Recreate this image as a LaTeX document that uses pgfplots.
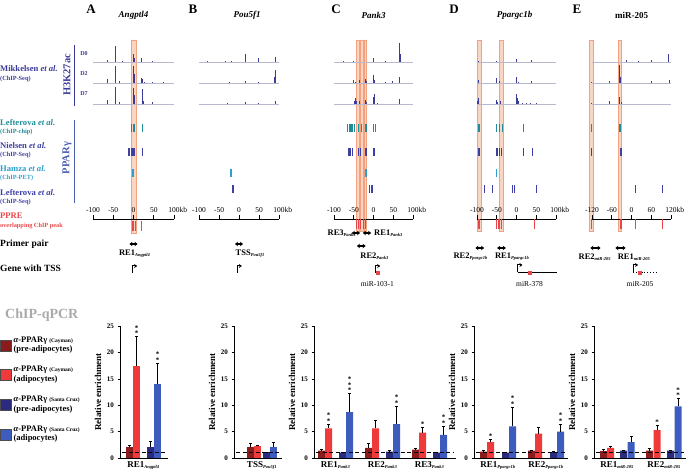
\documentclass[border=0pt]{standalone}
\usepackage{fontspec}
\setmainfont{Liberation Serif}
\usepackage{pgfplots}
\pgfplotsset{compat=1.18}
\usetikzlibrary{arrows.meta}

\definecolor{trk}{HTML}{3B3B98}
\definecolor{trkbase}{HTML}{B8B8CE}
\definecolor{tealc}{HTML}{1E8C99}
\definecolor{nblue}{HTML}{3E40A0}
\definecolor{hblue}{HTML}{2B9FD0}
\definecolor{lblue}{HTML}{3E40A8}
\definecolor{pparc}{HTML}{4A5DB0}
\definecolor{pprec}{HTML}{E8474A}
\definecolor{bandf}{HTML}{FBD5C3}
\definecolor{bande}{HTML}{F2A27E}
\definecolor{cdr}{HTML}{8B1C1C}
\definecolor{cr}{HTML}{EE3A3A}
\definecolor{cdb}{HTML}{2B2B7D}
\definecolor{cb}{HTML}{3D5CBE}
\definecolor{qgray}{HTML}{AAAAAA}

\newcommand{\sub}[1]{\textsubscript{\fontsize{4.5}{5}\selectfont\itshape #1}}

\pgfplotsset{
  trackax/.style={scale only axis, anchor=south west, clip=false, height=179pt, axis on top,
    ymin=-219, ymax=-40, axis x line*=bottom, axis y line=none,
    x axis line style={line width=0.8pt}, xtick align=inside, major tick length=3.5pt,
    xtick style={line width=0.8pt, black},
    xticklabel style={anchor=south, yshift=3pt, font=\fontsize{7.5}{8}\selectfont}},
  base/.style={line width=0.5pt, color=trkbase},
  pk/.style={draw=none, mark=none, error bars/.cd, y dir=plus, y explicit,
    error mark=none, error bar style={line width=0.8pt, color=trk}},
  pp/.style={only marks, mark=|, mark size=3.8pt, mark options={line width=1.1pt, color=#1}},
  ppre/.style={only marks, mark=|, mark size=5pt, mark options={line width=0.9pt, color=pprec}},
  band/.style={fill=bandf, draw=bande, line width=0.6pt},
  primer/.style={line width=1.6pt, {Stealth[length=3pt,width=4.5pt]}-{Stealth[length=3pt,width=4.5pt]}},
  tss/.style={line width=1pt, -{Stealth[length=3pt,width=4pt]}},
  barax/.style={scale only axis, anchor=south west, height=132pt, ymin=0, ymax=25,
    ytick={0,5,10,15,20,25}, axis lines*=left, axis line style={line width=0.6pt},
    ytick align=outside, major tick length=2.5pt, tick style={black, line width=0.5pt},
    major x tick style={draw=none},
    /pgf/number format/assume math mode=true,
    yticklabel style={font=\bfseries\fontsize{7}{8}\selectfont},
    ylabel={Relative enrichment}, ylabel style={font=\bfseries\fontsize{9}{10}\selectfont, yshift=-1pt},
    xticklabel style={font=\bfseries\fontsize{9}{10}\selectfont}},
  bb/.style={ybar, bar width=7, bar shift=0, fill=#1, draw=none, forget plot,
    error bars/.cd, y dir=plus, y explicit, error bar style={line width=0.5pt, black},
    error mark options={rotate=90, mark size=1.5pt, line width=0.5pt, black}},
  one/.style={black, line width=1pt, dash pattern=on 4pt off 2.5pt, forget plot},
}
\tikzset{
  star/.style={anchor=south, align=center, font=\bfseries\fontsize{7}{4}\selectfont, inner sep=0.5pt},
  lab/.style={font=\bfseries\fontsize{8.5}{9}\selectfont, inner sep=0},
  mir/.style={font=\fontsize{7.5}{8}\selectfont, inner sep=0},
  gt/.style={font=\bfseries\itshape\fontsize{9}{10}\selectfont},
  pl/.style={font=\bfseries\fontsize{13}{14}\selectfont},
  ll/.style={anchor=west, inner sep=0},
  big/.style={font=\bfseries\fontsize{8.6}{9.5}\selectfont},
  small/.style={font=\bfseries\fontsize{6.3}{7}\selectfont},
}

\begin{document}
\begin{tikzpicture}
\useasboundingbox (0,0) rectangle (688pt,473pt);

% ---- left labels
\node[ll, big, text=trk] at (0,404pt) {Mikkelsen \textit{et al.}};
\node[ll, small, text=trk] at (0,394pt) {(ChIP-Seq)};
\node[rotate=90, font=\bfseries\fontsize{10.5}{11}\selectfont, text=trk] at (67pt,398pt) {H3K27ac};
\draw[trk, line width=1pt] (74pt,428pt) -- (74pt,367pt);
\node[font=\bfseries\fontsize{6}{7}\selectfont, text=trk] at (84pt,419pt) {D0};
\node[font=\bfseries\fontsize{6}{7}\selectfont, text=trk] at (84pt,399pt) {D2};
\node[font=\bfseries\fontsize{6}{7}\selectfont, text=trk] at (84pt,379pt) {D7};

\node[ll, big, text=tealc] at (0,350pt) {Lefterova \textit{et al.}};
\node[ll, small, text=tealc] at (0,341pt) {(ChIP-chip)};
\node[ll, big, text=nblue] at (0,327pt) {Nielsen \textit{et al.}};
\node[ll, small, text=nblue] at (0,318pt) {(ChIP-Seq)};
\node[ll, big, text=hblue] at (0,304pt) {Hamza \textit{et al.}};
\node[ll, small, text=hblue] at (0,295pt) {(ChIP-PET)};
\node[ll, big, text=lblue] at (0,280pt) {Lefterova \textit{et al.}};
\node[ll, small, text=lblue] at (0,271pt) {(ChIP-Seq)};
\node[rotate=90, font=\bfseries\fontsize{10.5}{11}\selectfont, text=pparc] at (67pt,315pt) {PPARγ};
\draw[pparc, line width=1pt] (74pt,353pt) -- (74pt,270pt);

\node[ll, big, text=pprec] at (0,257pt) {PPRE};
\node[ll, small, text=pprec] at (0,247pt) {overlapping ChIP peak};
\node[ll, font=\bfseries\fontsize{9.5}{10}\selectfont] at (0,229pt) {Primer pair};
\node[ll, font=\bfseries\fontsize{9.5}{10}\selectfont] at (0,205pt) {Gene with TSS};
\node[ll, font=\bfseries\fontsize{14}{15}\selectfont, text=qgray] at (5pt,158pt) {ChIP-qPCR};

% ---- panel letters
\node[pl] at (91pt,464pt) {A};
\node[pl] at (193pt,464pt) {B};
\node[pl] at (336pt,464pt) {C};
\node[pl] at (454pt,464pt) {D};
\node[pl] at (577pt,464pt) {E};

% ================= A tracks
\begin{axis}[trackax, at={(93pt,254pt)}, width=81pt, xmin=-100, xmax=100,
  xtick={-100,-50,0,50,100}, xticklabels={-100,-50,0,50,100\rlap{kb}}]
\addplot[band] coordinates {(-5,-40)(7,-40)(7,-233)(-5,-233)(-5,-40)};
\addplot[base] coordinates {(-100,-62)(100,-62)};
\addplot[base] coordinates {(-100,-83)(100,-83)};
\addplot[base] coordinates {(-100,-104)(100,-104)};
\addplot[pk] coordinates {(-64,-62) +- (0,2) (-45,-62) +- (0,16) (-44,-62) +- (0,9) (-27,-62) +- (0,1)
  (-1,-62) +- (0,5) (0,-62) +- (0,8) (1,-62) +- (0,4) (20,-62) +- (0,4) (47,-62) +- (0,1)};
\addplot[pk] coordinates {(-64,-83) +- (0,4) (-45,-83) +- (0,17) (-44,-83) +- (0,10) (-35,-83) +- (0,2)
  (-1,-83) +- (0,8) (0,-83) +- (0,17) (1,-83) +- (0,9) (3,-83) +- (0,3) (20,-83) +- (0,5) (21,-83) +- (0,4)
  (23,-83) +- (0,2) (27,-83) +- (0,1) (47,-83) +- (0,1) (75,-83) +- (0,1)};
\addplot[pk] coordinates {(-64,-104) +- (0,4) (-45,-104) +- (0,17) (-44,-104) +- (0,10) (-35,-104) +- (0,2)
  (-1,-104) +- (0,8) (0,-104) +- (0,16) (1,-104) +- (0,9) (3,-104) +- (0,3) (21,-104) +- (0,9)
  (22,-104) +- (0,15) (23,-104) +- (0,12) (25,-104) +- (0,3) (47,-104) +- (0,2)};
\addplot[pp=tealc] coordinates {(-4,-128)(-1,-128)(2,-128)(22,-128)};
\addplot[pp=nblue] coordinates {(-12,-152)(-9,-152)(-6,-152)(-3,-152)(0,-152)(3,-152)(22,-152)};
\addplot[pp=hblue] coordinates {(-2,-173)(1,-173)};
\addplot[ppre] coordinates {(-2,-226)(1,-226)(4,-226)(20,-226)};
\addplot[primer] coordinates {(-10,-244)(10,-244)};
\addplot[tss] coordinates {(-3,-273)(-3,-266)(9,-266)};
\node[lab] at (axis cs:3,-254) {RE1\sub{Angptl4}};
\node[gt] at (axis cs:0,-15) {Angptl4};
\end{axis}

% ================= B tracks
\begin{axis}[trackax, at={(199pt,254pt)}, width=80pt, xmin=-100, xmax=100,
  xtick={-100,-50,0,50,100}, xticklabels={-100,-50,0,50,100\rlap{kb}}]
\addplot[base] coordinates {(-100,-62)(100,-62)};
\addplot[base] coordinates {(-100,-83)(100,-83)};
\addplot[base] coordinates {(-100,-104)(100,-104)};
\addplot[pk] coordinates {(-80,-62) +- (0,1) (-35,-62) +- (0,1) (-20,-62) +- (0,1) (15,-62) +- (0,8)
  (48,-62) +- (0,4) (90,-62) +- (0,5)};
\addplot[pk] coordinates {(-25,-83) +- (0,1) (15,-83) +- (0,2) (48,-83) +- (0,1) (89,-83) +- (0,6)
  (90,-83) +- (0,13) (91,-83) +- (0,5)};
\addplot[pk] coordinates {(-30,-104) +- (0,1) (15,-104) +- (0,2) (48,-104) +- (0,1) (90,-104) +- (0,3)};
\addplot[pp=hblue] coordinates {(-20,-173)};
\addplot[pp=lblue] coordinates {(-15,-189)};
\addplot[primer] coordinates {(-10,-244)(10,-244)};
\addplot[tss] coordinates {(-5,-273)(-5,-266)(7,-266)};
\node[lab] at (axis cs:28,-254) {TSS\sub{Pou5f1}};
\node[gt] at (axis cs:20,-15) {Pou5f1};
\end{axis}

% ================= C tracks
\begin{axis}[trackax, at={(334pt,254pt)}, width=79pt, xmin=-100, xmax=100,
  xtick={-100,-50,0,50,100}, xticklabels={-100,-50,0,50,100\rlap{kb}}]
\addplot[band] coordinates {(-44,-40)(-37,-40)(-37,-231)(-44,-231)(-44,-40)};
\addplot[band] coordinates {(-34,-40)(-27,-40)(-27,-231)(-34,-231)(-34,-40)};
\addplot[band] coordinates {(-24,-40)(-17,-40)(-17,-231)(-24,-231)(-24,-40)};
\addplot[base] coordinates {(-100,-62)(100,-62)};
\addplot[base] coordinates {(-100,-83)(100,-83)};
\addplot[base] coordinates {(-100,-104)(100,-104)};
\addplot[pk] coordinates {(-75,-62) +- (0,1) (-50,-62) +- (0,1) (0,-62) +- (0,4) (30,-62) +- (0,1)
  (65,-62) +- (0,10) (66,-62) +- (0,19) (67,-62) +- (0,8)};
\addplot[pk] coordinates {(-50,-83) +- (0,3) (-46,-83) +- (0,1) (-36,-83) +- (0,3) (-21,-83) +- (0,4)
  (-18,-83) +- (0,2) (0,-83) +- (0,8) (2,-83) +- (0,3) (30,-83) +- (0,1) (48,-83) +- (0,2)
  (65,-83) +- (0,4) (66,-83) +- (0,6)};
\addplot[pk] coordinates {(-48,-104) +- (0,3) (-46,-104) +- (0,6) (-44,-104) +- (0,3) (-36,-104) +- (0,3)
  (-21,-104) +- (0,4) (-18,-104) +- (0,2) (0,-104) +- (0,7) (1,-104) +- (0,10) (3,-104) +- (0,3)
  (10,-104) +- (0,1) (66,-104) +- (0,5)};
\addplot[pp=tealc] coordinates {(-65,-128)(-61,-128)(-57,-128)(-53,-128)(-49,-128)(-37,-128)(-30,-128)
  (-19,-128)(0,-128)(4,-128)};
\addplot[pp=nblue] coordinates {(-62,-152)(-58,-152)(-54,-152)(-37,-152)(-32,-152)(-19,-152)(0,-152)(3,-152)};
\addplot[pp=hblue] coordinates {(-19,-173)};
\addplot[pp=lblue] coordinates {(-10,-189)(-6,-189)(-2,-189)};
\addplot[ppre] coordinates {(-42,-224)(-38,-224)(-33,-224)(-25,-224)(-20,-224)};
\addplot[primer] coordinates {(-55,-233)(-34,-233)};
\addplot[primer] coordinates {(-27,-233)(-6,-233)};
\addplot[primer] coordinates {(-42,-246)(-20,-246)};
\addplot[tss] coordinates {(5,-273)(5,-266)(17,-266)};
\addplot[only marks, mark=square*, mark size=1.4pt, color=pprec] coordinates {(10,-273)};
\node[lab] at (axis cs:-80,-233) {RE3\sub{Pank3}};
\node[lab] at (axis cs:38,-233) {RE1\sub{Pank3}};
\node[lab] at (axis cs:3,-256) {RE2\sub{Pank3}};
\node[mir] at (axis cs:10,-284) {miR-103-1};
\node[gt] at (axis cs:0,-15) {Pank3};
\end{axis}

% ================= D tracks
\begin{axis}[trackax, at={(477pt,254pt)}, width=79pt, xmin=-100, xmax=100,
  xtick={-100,-50,0,50,100}, xticklabels={-100,-50,0,50,100\rlap{kb}}]
\addplot[band] coordinates {(-100,-40)(-88,-40)(-88,-231)(-100,-231)(-100,-40)};
\addplot[band] coordinates {(-43,-40)(-33,-40)(-33,-231)(-43,-231)(-43,-40)};
\addplot[base] coordinates {(-100,-62)(100,-62)};
\addplot[base] coordinates {(-100,-83)(100,-83)};
\addplot[base] coordinates {(-100,-104)(100,-104)};
\addplot[pk] coordinates {(-97,-62) +- (0,1) (-50,-62) +- (0,1) (0,-62) +- (0,3) (37,-62) +- (0,2)};
\addplot[pk] coordinates {(-97,-83) +- (0,3) (-50,-83) +- (0,5) (-43,-83) +- (0,2) (0,-83) +- (0,6)
  (5,-83) +- (0,1) (37,-83) +- (0,2)};
\addplot[pk] coordinates {(-98,-104) +- (0,3) (-97,-104) +- (0,6) (-50,-104) +- (0,4) (-48,-104) +- (0,2)
  (-40,-104) +- (0,3) (0,-104) +- (0,10) (2,-104) +- (0,6) (5,-104) +- (0,3) (15,-104) +- (0,1)
  (25,-104) +- (0,1) (35,-104) +- (0,1) (50,-104) +- (0,1)};
\addplot[pp=tealc] coordinates {(-95,-128)(-50,-128)(-42,-128)(-36,-128)(17,-128)};
\addplot[pp=nblue] coordinates {(-97,-152)(-93,-152)(-50,-152)(-47,-152)(-43,-152)(-37,-152)(17,-152)(41,-152)};
\addplot[pp=hblue] coordinates {(-50,-173)};
\addplot[pp=lblue] coordinates {(-82,-189)(-61,-189)(-10,-189)(-6,-189)(50,-189)};
\addplot[ppre] coordinates {(-97,-224)(-93,-224)(-50,-224)(-46,-224)(-42,-224)(-38,-224)(46,-224)};
\addplot[primer] coordinates {(-104,-248)(-82,-248)};
\addplot[primer] coordinates {(-49,-248)(-27,-248)};
\addplot[line width=0.8pt] coordinates {(3,-272)(102,-272)};
\addplot[tss] coordinates {(3,-272)(3,-265)(15,-265)};
\addplot[only marks, mark=square*, mark size=1.4pt, color=pprec] coordinates {(33,-273)};
\node[lab] at (axis cs:-116,-257) {RE2\sub{Ppargc1b}};
\node[lab] at (axis cs:-11,-257) {RE1\sub{Ppargc1b}};
\node[mir] at (axis cs:33,-284) {miR-378};
\node[gt] at (axis cs:-5,-15) {Ppargc1b};
\end{axis}

% ================= E tracks
\begin{axis}[trackax, at={(592pt,254pt)}, width=79pt, xmin=-120, xmax=120,
  xtick={-120,-60,0,60,120}, xticklabels={-120,-60,0,60,120\rlap{kb}}]
\addplot[band] coordinates {(-128,-40)(-116,-40)(-116,-231)(-128,-231)(-128,-40)};
\addplot[band] coordinates {(-40,-40)(-30,-40)(-30,-231)(-40,-231)(-40,-40)};
\addplot[base] coordinates {(-120,-62)(120,-62)};
\addplot[base] coordinates {(-120,-83)(120,-83)};
\addplot[base] coordinates {(-120,-104)(120,-104)};
\addplot[pk] coordinates {(-15,-62) +- (0,2) (20,-62) +- (0,1) (61,-62) +- (0,2) (112,-62) +- (0,5)
  (113,-62) +- (0,8)};
\addplot[pk] coordinates {(-122,-83) +- (0,1) (-67,-83) +- (0,2) (-38,-83) +- (0,10) (-37,-83) +- (0,18)
  (-35,-83) +- (0,6) (61,-83) +- (0,2) (115,-83) +- (0,3)};
\addplot[pk] coordinates {(-122,-104) +- (0,1) (-67,-104) +- (0,3) (-38,-104) +- (0,4) (-37,-104) +- (0,7)
  (-30,-104) +- (0,2)};
\addplot[pp=tealc] coordinates {(-121,-128)(-35,-128)};
\addplot[pp=nblue] coordinates {(-121,-152)(-34,-152)(-30,-152)};
\addplot[pp=lblue] coordinates {(13,-189)(94,-189)};
\addplot[ppre] coordinates {(-121,-224)(-35,-224)(-31,-224)(13,-224)(94,-224)};
\addplot[primer] coordinates {(-125,-248)(-94,-248)};
\addplot[primer] coordinates {(-49,-248)(-18,-248)};
\addplot[line width=0.8pt, dotted] coordinates {(5,-272)(80,-272)};
\addplot[tss] coordinates {(5,-272)(5,-265)(20,-265)};
\addplot[only marks, mark=square*, mark size=1.4pt, color=pprec] coordinates {(26,-273)};
\node[lab] at (axis cs:-111,-257) {RE2\sub{miR-205}};
\node[lab] at (axis cs:8,-257) {RE1\sub{miR-205}};
\node[mir] at (axis cs:26,-284) {miR-205};
\node[font=\bfseries\fontsize{9}{10}\selectfont] at (axis cs:0,-15) {miR-205};
\end{axis}

% ================= bar charts
\begin{axis}[barax, at={(120pt,15pt)}, width=48pt, xmin=120, xmax=168,
  xtick={143.5}, xticklabels={RE1\sub{Angptl4}},
  legend style={at={(-2.5,0.935)}, anchor=north west, draw=none, fill=none,
    font=\bfseries\fontsize{8.5}{9.5}\selectfont, cells={anchor=west, align=left},
    row sep=9pt, inner sep=0pt}]
\addlegendimage{legend image code/.code={\draw[fill=cdr, draw=black!70] (0pt,-6pt) rectangle (11pt,5pt);}}
\addlegendentry{\textit{α}-PPARγ {\fontsize{5.5}{6}\selectfont(Cayman)}\\(pre-adipocytes)}
\addlegendimage{legend image code/.code={\draw[fill=cr, draw=black!70] (0pt,-6pt) rectangle (11pt,5pt);}}
\addlegendentry{\textit{α}-PPARγ {\fontsize{5.5}{6}\selectfont(Cayman)}\\(adipocytes)}
\addlegendimage{legend image code/.code={\draw[fill=cdb, draw=black!70] (0pt,-6pt) rectangle (11pt,5pt);}}
\addlegendentry{\textit{α}-PPARγ {\fontsize{5.5}{6}\selectfont(Santa Cruz)}\\(pre-adipocytes)}
\addlegendimage{legend image code/.code={\draw[fill=cb, draw=black!70] (0pt,-6pt) rectangle (11pt,5pt);}}
\addlegendentry{\textit{α}-PPARγ {\fontsize{5.5}{6}\selectfont(Santa Cruz)}\\(adipocytes)}
\addplot[bb=cdr] coordinates {(129.5,2.1) +- (0,0.4)};
\addplot[bb=cr]  coordinates {(136.5,17.5) +- (0,5.5)};
\addplot[bb=cdb] coordinates {(150.5,2.1) +- (0,1.1)};
\addplot[bb=cb]  coordinates {(157.5,14.0) +- (0,4.0)};
\addplot[one] coordinates {(122,1)(166,1)};
\node[star] at (axis cs:136.5,23) {*\\*};
\node[star] at (axis cs:157.5,18) {*\\*};
\end{axis}

\begin{axis}[barax, at={(234pt,15pt)}, width=48pt, xmin=234, xmax=282,
  xtick={262}, xticklabels={TSS\sub{Pou5f1}}]
\addplot[bb=cdr] coordinates {(250.5,2.0) +- (0,0.8)};
\addplot[bb=cr]  coordinates {(257.5,2.25) +- (0,0.2)};
\addplot[bb=cdb] coordinates {(266.5,1.05) +- (0,0.1)};
\addplot[bb=cb]  coordinates {(273.5,2.1) +- (0,0.85)};
\addplot[one] coordinates {(236,1)(280,1)};
\end{axis}

\begin{axis}[barax, at={(314pt,15pt)}, width=142pt, xmin=314, xmax=456,
  xtick={335.5,382.5,429.5}, xticklabels={RE1\sub{Pank3},RE2\sub{Pank3},RE3\sub{Pank3}}]
\addplot[bb=cdr] coordinates {(321.5,1.4) +- (0,0.35) (368.5,1.9) +- (0,0.8) (415.5,1.6) +- (0,0.3)};
\addplot[bb=cr]  coordinates {(328.5,5.6) +- (0,0.8) (375.5,5.6) +- (0,1.6) (422.5,4.8) +- (0,1.1)};
\addplot[bb=cdb] coordinates {(342.5,1.0) +- (0,0.1) (389.5,1.2) +- (0,0.2) (436.5,1.0) +- (0,0.1)};
\addplot[bb=cb]  coordinates {(349.5,8.7) +- (0,3.5) (396.5,6.4) +- (0,3.4) (443.5,4.4) +- (0,1.6)};
\addplot[one] coordinates {(316,1)(454,1)};
\node[star] at (axis cs:328.5,6.4) {*\\*};
\node[star] at (axis cs:349.5,12.2) {*\\*\\*};
\node[star] at (axis cs:396.5,9.8) {*\\*};
\node[star] at (axis cs:422.5,5.9) {*};
\node[star] at (axis cs:443.5,6.0) {*\\*};
\end{axis}

\begin{axis}[barax, at={(474pt,15pt)}, width=94pt, xmin=474, xmax=568,
  xtick={498,546}, xticklabels={RE1\sub{Ppargc1b},RE2\sub{Ppargc1b}}]
\addplot[bb=cdr] coordinates {(483.5,1.2) +- (0,0.2) (531.5,1.4) +- (0,0.1)};
\addplot[bb=cr]  coordinates {(490.5,3.0) +- (0,0.6) (538.5,4.6) +- (0,1.2)};
\addplot[bb=cdb] coordinates {(505.5,1.0) +- (0,0.05) (553.5,1.1) +- (0,0.1)};
\addplot[bb=cb]  coordinates {(512.5,6.0) +- (0,3.7) (560.5,5.0) +- (0,1.4)};
\addplot[one] coordinates {(476,1)(566,1)};
\node[star] at (axis cs:490.5,3.6) {*};
\node[star] at (axis cs:512.5,9.7) {*\\*};
\node[star] at (axis cs:560.5,6.4) {*\\*};
\end{axis}

\begin{axis}[barax, at={(594pt,15pt)}, width=92pt, xmin=594, xmax=686,
  xtick={617,664}, xticklabels={RE1\sub{miR-205},RE2\sub{miR-205}}]
\addplot[bb=cdr] coordinates {(603.5,1.3) +- (0,0.3) (649.5,1.4) +- (0,0.5)};
\addplot[bb=cr]  coordinates {(610.5,1.9) +- (0,0.4) (657,5.3) +- (0,0.9)};
\addplot[bb=cdb] coordinates {(623.5,1.4) +- (0,0.1) (670.5,1.4) +- (0,0.1)};
\addplot[bb=cb]  coordinates {(631,3.0) +- (0,1.1) (678,9.8) +- (0,1.5)};
\addplot[one] coordinates {(596,1)(684,1)};
\node[star] at (axis cs:657,6.2) {*};
\node[star] at (axis cs:678,11.3) {*\\*};
\end{axis}
\end{tikzpicture}
\end{document}
